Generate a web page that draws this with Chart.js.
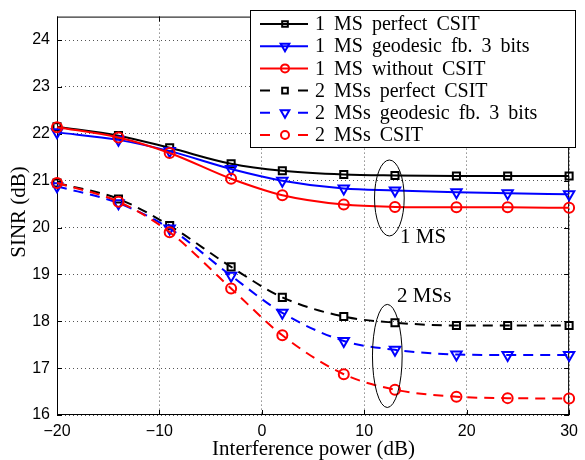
<!DOCTYPE html>
<html>
<head>
<meta charset="utf-8">
<script src="https://cdn.jsdelivr.net/npm/chart.js@4.4.1/dist/chart.umd.min.js"></script>
<style>
  html, body { margin: 0; padding: 0; background: #fff; }
</style>
</head>
<body>
<canvas id="sinrChart" width="585" height="460"></canvas>
<script>
// x positions (dB) of the markers
const interference = [-20, -14, -9, -3, 2, 8, 13, 19, 24, 30];

// SINR values
const ms1Perfect = [22.15, 21.96, 21.70, 21.36, 21.21, 21.13, 21.11, 21.10, 21.10, 21.10];
const ms1Geodesic = [22.03, 21.87, 21.63, 21.25, 21.00, 20.83, 20.79, 20.75, 20.73, 20.71];
const ms1NoCsit = [22.14, 21.92, 21.59, 21.04, 20.69, 20.49, 20.44, 20.43, 20.43, 20.42];
const ms2Perfect = [20.95, 20.61, 20.04, 19.16, 18.51, 18.10, 17.97, 17.91, 17.91, 17.91];
const ms2Geodesic = [20.88, 20.52, 19.98, 18.97, 18.18, 17.58, 17.39, 17.29, 17.28, 17.28];
const ms2Csit = [20.95, 20.55, 19.90, 18.70, 17.70, 16.87, 16.54, 16.39, 16.36, 16.35];

const seriesLabels = [
  "1 MS perfect CSIT",
  "1 MS geodesic fb. 3 bits",
  "1 MS without CSIT",
  "2 MSs perfect CSIT",
  "2 MSs geodesic fb. 3 bits",
  "2 MSs CSIT",
];

const xTicks = [-20, -10, 0, 10, 20, 30];
const xTickLabels = ["\u221220", "\u221210", "0", "10", "20", "30"];
const yTicks = [16, 17, 18, 19, 20, 21, 22, 23, 24];
const yTickLabels = ["16", "17", "18", "19", "20", "21", "22", "23", "24"];

const xTitle = "Interference power (dB)";
const yTitle = "SINR (dB)";

// the two ellipse call-outs (data coordinates)
const groupNotes = [
  { text: "1 MS", cx: 12.45, cy: 20.63, rx: 1.45, ry: 0.81, tx: 13.5, ty: 19.78 },
  { text: "2 MSs", cx: 12.25, cy: 17.26, rx: 1.45, ry: 1.1, tx: 13.2, ty: 18.53 },
];

const seriesValues = [ms1Perfect, ms1Geodesic, ms1NoCsit, ms2Perfect, ms2Geodesic, ms2Csit];

const styles = [
  { color: "#000000", marker: "rect", r: 5, rot: 0, dashed: false },
  { color: "#0000ff", marker: "triangle", r: 6, rot: 180, dashed: false },
  { color: "#ff0000", marker: "circle", r: 5, rot: 0, dashed: false },
  { color: "#000000", marker: "rect", r: 5, rot: 0, dashed: true },
  { color: "#0000ff", marker: "triangle", r: 6, rot: 180, dashed: true },
  { color: "#ff0000", marker: "circle", r: 5, rot: 0, dashed: true },
];

const SERIF = "'Liberation Serif', 'Times New Roman', serif";
const SANS = "'Liberation Sans', Arial, sans-serif";

const datasets = seriesValues.map((vals, i) => {
  const st = styles[i];
  return {
    label: seriesLabels[i],
    data: interference.map((x, j) => ({ x: x, y: vals[j] })),
    borderColor: st.color,
    borderWidth: 2,
    borderDash: st.dashed ? [10, 7] : [],
    pointStyle: st.marker,
    pointRadius: st.r,
    pointRotation: st.rot,
    pointBorderWidth: 2,
    pointBorderColor: st.color,
    pointBackgroundColor: "rgba(0,0,0,0)",
    cubicInterpolationMode: "monotone",
    fill: false,
    clip: false,
    order: seriesValues.length - i,
  };
});

const decor = {
  id: "decor",
  beforeDatasetsDraw(chart) {
    const { ctx, chartArea: a, scales } = chart;
    ctx.save();
    ctx.strokeStyle = "#000";
    ctx.lineWidth = 1;
    ctx.strokeRect(a.left + 0.5, a.top + 0.5, a.right - a.left - 1, a.bottom - a.top - 1);
    ctx.beginPath();
    xTicks.forEach((v) => {
      const px = Math.round(scales.x.getPixelForValue(v)) + 0.5;
      ctx.moveTo(px, a.bottom);
      ctx.lineTo(px, a.bottom - 5);
      ctx.moveTo(px, a.top);
      ctx.lineTo(px, a.top + 5);
    });
    yTicks.forEach((v) => {
      const py = Math.round(scales.y.getPixelForValue(v)) + 0.5;
      ctx.moveTo(a.left, py);
      ctx.lineTo(a.left + 5, py);
      ctx.moveTo(a.right, py);
      ctx.lineTo(a.right - 5, py);
    });
    ctx.stroke();
    ctx.restore();
  },
  afterDraw(chart) {
    const { ctx, chartArea: a, scales } = chart;
    ctx.save();

    // call-outs
    ctx.strokeStyle = "#000";
    ctx.lineWidth = 1;
    ctx.fillStyle = "#000";
    ctx.font = "21px " + SERIF;
    ctx.textBaseline = "middle";
    ctx.textAlign = "left";
    groupNotes.forEach((n) => {
      const cx = scales.x.getPixelForValue(n.cx);
      const cy = scales.y.getPixelForValue(n.cy);
      const rx = Math.abs(scales.x.getPixelForValue(n.cx + n.rx) - cx);
      const ry = Math.abs(scales.y.getPixelForValue(n.cy + n.ry) - cy);
      ctx.beginPath();
      ctx.ellipse(cx, cy, rx, ry, 0, 0, Math.PI * 2);
      ctx.stroke();
      ctx.fillText(n.text, scales.x.getPixelForValue(n.tx), scales.y.getPixelForValue(n.ty));
    });

    // axis titles
    ctx.textAlign = "center";
    ctx.textBaseline = "alphabetic";
    ctx.fillText(xTitle, (a.left + a.right) / 2 + 0.5, 455);
    ctx.save();
    ctx.translate(25, 212);
    ctx.rotate(-Math.PI / 2);
    ctx.fillText(yTitle, 0, 0);
    ctx.restore();

    // legend
    const box = { left: 250, top: 10, right: 576, bottom: 148 };
    ctx.fillStyle = "#fff";
    ctx.fillRect(box.left, box.top, box.right - box.left, box.bottom - box.top);
    ctx.strokeStyle = "#000";
    ctx.strokeRect(box.left + 0.5, box.top + 0.5, box.right - box.left - 1, box.bottom - box.top - 1);
    ctx.font = "20px " + SERIF;
    ctx.textAlign = "left";
    ctx.textBaseline = "middle";
    if ("wordSpacing" in ctx) ctx.wordSpacing = "4px";
    chart.data.datasets.forEach((ds, i) => {
      const st = styles[i];
      const y = 24 + i * 22.2;
      ctx.strokeStyle = st.color;
      ctx.lineWidth = 2;
      ctx.beginPath();
      if (st.dashed) {
        ctx.moveTo(260, y); ctx.lineTo(270, y);
        ctx.moveTo(298, y); ctx.lineTo(308, y);
      } else {
        ctx.moveTo(260, y); ctx.lineTo(308, y);
      }
      ctx.stroke();
      ctx.fillStyle = "rgba(0,0,0,0)";
      Chart.helpers.drawPoint(ctx, {
        pointStyle: st.marker,
        rotation: st.rot,
        radius: st.marker === "triangle" ? 5 : 4,
        borderWidth: 2,
      }, 285, y);
      ctx.fillStyle = "#000";
      ctx.fillText(ds.label, 315, y + 1);
    });
    ctx.restore();
  },
};

new Chart(document.getElementById("sinrChart"), {
  type: "line",
  data: { datasets: datasets },
  options: {
    responsive: false,
    animation: false,
    devicePixelRatio: 1,
    layout: { padding: { left: 0, top: 6, right: 9, bottom: 0 } },
    scales: {
      x: {
        type: "linear",
        min: -20,
        max: 30,
        afterBuildTicks: (s) => { s.ticks = xTicks.map((v) => ({ value: v })); },
        afterFit: (s) => { s.height = 45; },
        ticks: {
          padding: 7,
          color: "#000",
          maxRotation: 0,
          autoSkip: false,
          font: { family: SANS, size: 16 },
          callback: (v, i) => xTickLabels[i],
        },
        grid: { color: "#555", lineWidth: 1, drawTicks: false },
        border: { display: false, dash: [1, 3] },
      },
      y: {
        type: "linear",
        min: 16,
        max: 24.5,
        afterBuildTicks: (s) => { s.ticks = yTicks.map((v) => ({ value: v })); },
        afterFit: (s) => { s.width = 57; },
        ticks: {
          padding: 7,
          color: "#000",
          autoSkip: false,
          font: { family: SANS, size: 16 },
          callback: (v, i) => yTickLabels[i],
        },
        grid: { color: "#555", lineWidth: 1, drawTicks: false },
        border: { display: false, dash: [1, 3] },
      },
    },
    plugins: {
      legend: { display: false },
      tooltip: { enabled: false },
    },
  },
  plugins: [decor],
});
</script>
</body>
</html>
